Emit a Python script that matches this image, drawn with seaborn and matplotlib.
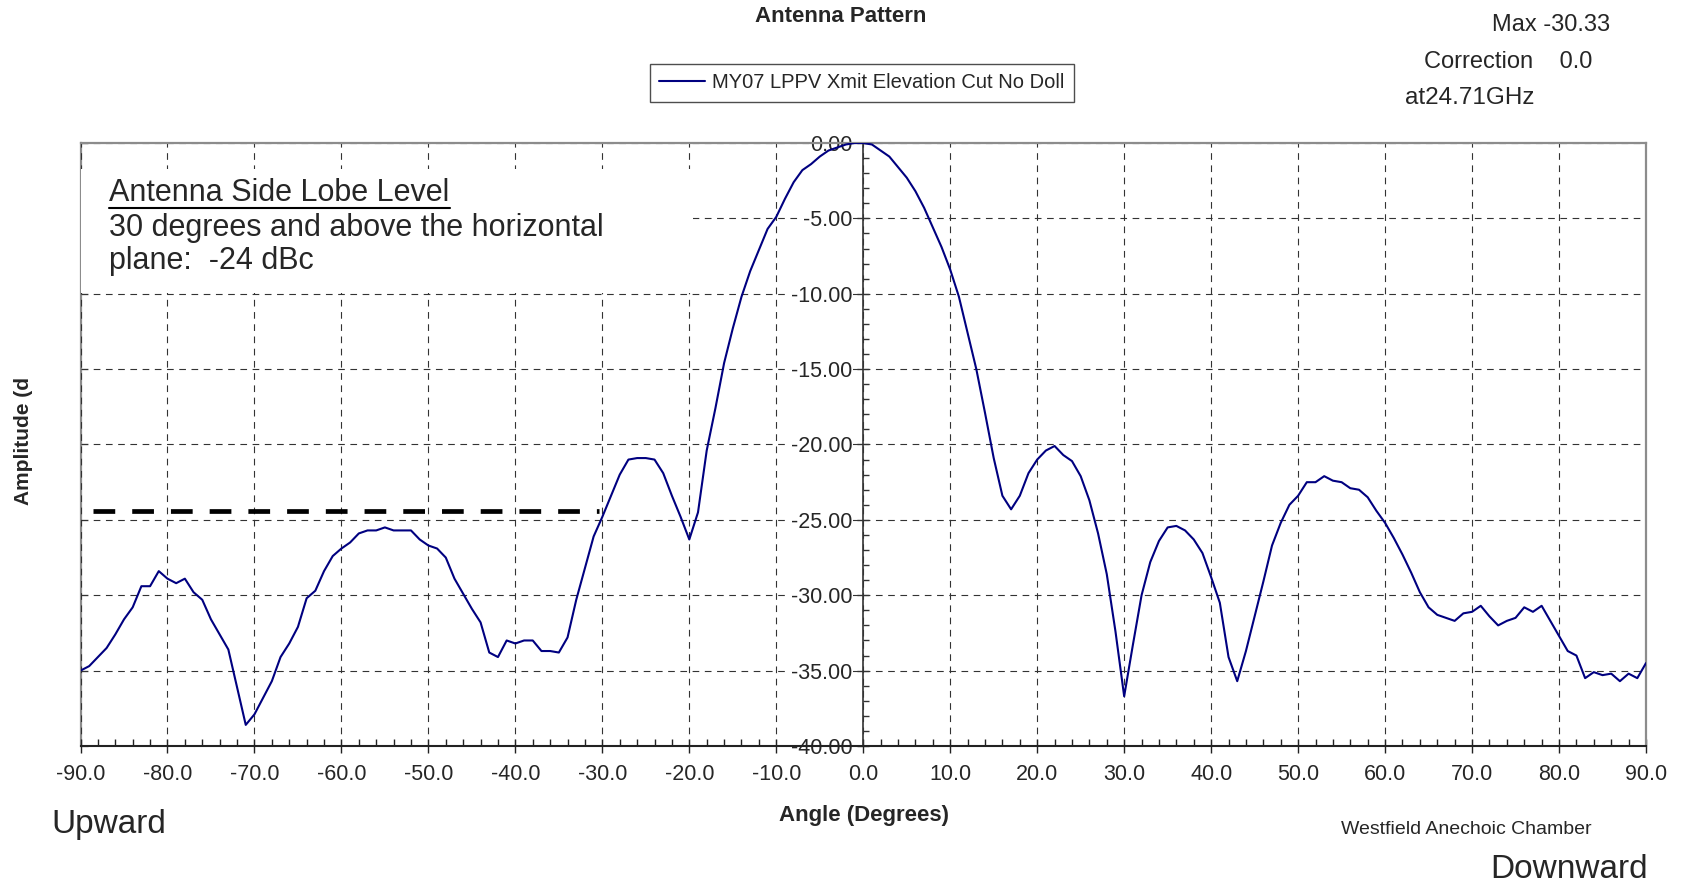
import matplotlib
matplotlib.use("Agg")
import matplotlib.pyplot as plt
import seaborn as sns
from matplotlib.ticker import MultipleLocator, NullLocator
from matplotlib.patches import Rectangle
from matplotlib.lines import Line2D
from matplotlib.transforms import IdentityTransform

# ---------------- data ----------------
angles = list(range(-90, 91))
amplitude = [
    -35.0, -34.7, -34.1, -33.5, -32.6, -31.6, -30.8, -29.4, -29.4, -28.4,   # -90..-81
    -28.9, -29.2, -28.9, -29.8, -30.3, -31.6, -32.6, -33.6, -36.1, -38.6,   # -80..-71
    -37.9, -36.8, -35.7, -34.1, -33.2, -32.1, -30.2, -29.7, -28.4, -27.4,   # -70..-61
    -26.9, -26.5, -25.9, -25.7, -25.7, -25.5, -25.7, -25.7, -25.7, -26.3,   # -60..-51
    -26.7, -26.9, -27.5, -28.9, -29.9, -30.9, -31.8, -33.8, -34.1, -33.0,   # -50..-41
    -33.2, -33.0, -33.0, -33.7, -33.7, -33.8, -32.8, -30.3, -28.2, -26.1,   # -40..-31
    -24.8, -23.4, -22.0, -21.0, -20.9, -20.9, -21.0, -21.9, -23.4, -24.8,   # -30..-21
    -26.3, -24.5, -20.4, -17.6, -14.6, -12.3, -10.2, -8.5, -7.1, -5.7,      # -20..-11
    -4.9, -3.7, -2.6, -1.8, -1.4, -0.9, -0.5, -0.3, -0.1, 0.0,              # -10..-1
    0.0,                                                                    # 0
    -0.1, -0.5, -0.9, -1.6, -2.3, -3.2, -4.3, -5.6, -6.9, -8.4,             # 1..10
    -10.2, -12.6, -15.0, -17.9, -20.9, -23.4, -24.3, -23.4, -21.9, -21.0,   # 11..20
    -20.4, -20.1, -20.7, -21.1, -22.1, -23.7, -25.9, -28.6, -32.4, -36.7,   # 21..30
    -33.3, -30.0, -27.8, -26.4, -25.5, -25.4, -25.7, -26.3, -27.2, -28.8,   # 31..40
    -30.5, -34.1, -35.7, -33.7, -31.4, -29.1, -26.7, -25.2, -24.0, -23.4,   # 41..50
    -22.5, -22.5, -22.1, -22.4, -22.5, -22.9, -23.0, -23.5, -24.4, -25.2,   # 51..60
    -26.2, -27.3, -28.5, -29.8, -30.8, -31.3, -31.5, -31.7, -31.2, -31.1,   # 61..70
    -30.7, -31.4, -32.0, -31.7, -31.5, -30.8, -31.1, -30.7, -31.7, -32.7,   # 71..80
    -33.7, -34.0, -35.5, -35.1, -35.3, -35.2, -35.7, -35.2, -35.5, -34.5,   # 81..90
]
series_label = "MY07 LPPV Xmit Elevation Cut No Doll"
x_ticks = list(range(-90, 91, 10))
x_tick_labels = [f"{v:.1f}" for v in x_ticks]
y_ticks = list(range(-40, 1, 5))
y_tick_labels = [f"{v:.2f}" for v in y_ticks]
limit_x = [-88.6, -30.4]
limit_y = [-24.4, -24.4]

# ---------------- style ----------------
sns.set_theme(style="white")
plt.rcParams["font.family"] = ["Liberation Sans", "DejaVu Sans"]
plt.rcParams["axes.unicode_minus"] = False

W, H = 1684, 885
fig = plt.figure(figsize=(W / 100, H / 100), dpi=100)
fx = lambda px: px / W
fy = lambda py: 1 - py / H

left, right, top, bottom = 80.5, 1646, 143, 746
ax = fig.add_axes([fx(left), fy(bottom), (right - left) / W, (bottom - top) / H])

sns.lineplot(x=angles, y=amplitude, color="#000080", lw=1.5, label=series_label,
             ax=ax, zorder=3)
ax.plot(limit_x, limit_y, color="black", lw=3.4, linestyle=(0, (4.6, 3.6)),
        dash_capstyle="butt", zorder=3, label="_nolegend_")

ax.set_xlim(-90, 90)
ax.set_ylim(-40, 0)
ax.set_xlabel("")
ax.set_ylabel("")
ax.set_axisbelow(True)

# grid
ax.grid(True, which="major", color="#333333", lw=0.8, linestyle=(0, (6, 5)))

# white box behind the annotation text
ax.add_patch(Rectangle((0, 0.752), 0.391, 0.205, transform=ax.transAxes,
                       facecolor="white", edgecolor="none", zorder=1))

# spines
ax.spines["left"].set_position(("data", 0))
ax.spines["left"].set_color("#333333")
ax.spines["left"].set_linewidth(1.2)
for s in ("top", "right"):
    ax.spines[s].set_color("#8c8c8c")
    ax.spines[s].set_linewidth(1.6)
ax.spines["bottom"].set_color("#222222")
ax.spines["bottom"].set_linewidth(1.5)

# ticks
ax.set_xticks(x_ticks, labels=x_tick_labels)
ax.xaxis.set_minor_locator(MultipleLocator(2))
ax.set_yticks(y_ticks, labels=y_tick_labels)
ax.yaxis.set_minor_locator(MultipleLocator(1))
ax.tick_params(bottom=True, left=True, top=False, right=False)
ax.tick_params(axis="x", which="major", direction="inout", length=10, width=1,
               color="#222222", pad=8, labelsize=15.5)
ax.tick_params(axis="x", which="minor", direction="in", length=5, width=1,
               color="#222222", bottom=True)
ax.tick_params(axis="y", which="major", direction="inout", length=8, width=1,
               color="#333333", pad=4, labelsize=15.5)
ax.tick_params(axis="y", which="minor", direction="in", length=4, width=1,
               color="#333333", left=True)
for t in ax.get_yticklabels():
    t.set_bbox(dict(facecolor="white", edgecolor="none", pad=0.5))

# left border with small inward ticks
sec = ax.secondary_yaxis("left")
sec.set_yticks(y_ticks)
sec.yaxis.set_minor_locator(NullLocator())
sec.tick_params(axis="y", direction="in", length=5, width=1, color="#8c8c8c",
                labelleft=False, left=True)
sec.spines["left"].set_color("#8c8c8c")
sec.spines["left"].set_linewidth(1.6)

# legend
leg = ax.legend(loc="center", bbox_to_anchor=(fx(862), fy(83)),
                bbox_transform=fig.transFigure, frameon=True, fancybox=False,
                fontsize=14.5, handlelength=2.3, handletextpad=0.35,
                borderpad=0.45)
leg.get_frame().set_edgecolor("#222222")
leg.get_frame().set_linewidth(1.0)

# texts
fig.text(fx(841), fy(17), "Antenna Pattern", ha="center", va="center",
         weight="bold", size=16)
fig.text(fx(1492), fy(25), "Max -30.33", ha="left", va="center", size=17)
fig.text(fx(1424), fy(62), "Correction    0.0", ha="left", va="center", size=17)
fig.text(fx(1405), fy(98), "at24.71GHz", ha="left", va="center", size=17.5)

fig.text(fx(23.6), fy(441), "Amplitude (d", rotation=90, ha="center",
         va="center", weight="bold", size=15)
fig.text(fx(864.5), fy(816), "Angle (Degrees)", ha="center", va="center",
         weight="bold", size=16)
fig.text(fx(51), fy(825), "Upward", ha="left", va="center", size=24)
fig.text(fx(1648), fy(870), "Downward", ha="right", va="center", size=24)
fig.text(fx(1341), fy(830), "Westfield Anechoic Chamber", ha="left",
         va="center", size=14)

t1 = fig.text(fx(109.5), fy(193), "Antenna Side Lobe Level", ha="left",
              va="center", size=22)
fig.text(fx(109.5), fy(228), "30 degrees and above the horizontal", ha="left",
         va="center", size=22)
fig.text(fx(109.5), fy(261), "plane:  -24 dBc", ha="left", va="center", size=22)

fig.canvas.draw()
bb = t1.get_window_extent(fig.canvas.get_renderer())
fig.add_artist(Line2D([bb.x0, bb.x1], [H - 208, H - 208],
                      transform=IdentityTransform(), color="black", lw=1.5))

fig.savefig("out.png", dpi=100)
